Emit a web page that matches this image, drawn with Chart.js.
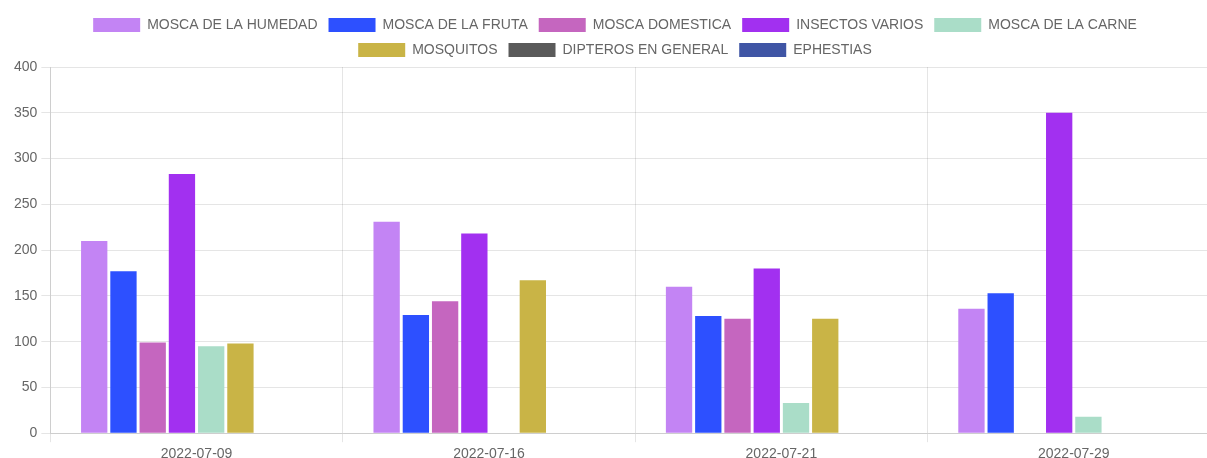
<!DOCTYPE html>
<html lang="es">
<head>
<meta charset="utf-8">
<title>Capturas por fecha</title>
<script src="https://cdn.jsdelivr.net/npm/chart.js@4.4.0/dist/chart.umd.min.js"></script>
<style>
    html, body { margin: 0; padding: 0; background: #fff; overflow: hidden; }
    #wrap { position: absolute; left: 0; top: 0; width: 1232px; height: 467px; }
</style>
</head>
<body>
<div id="wrap"><canvas id="capturasChart"></canvas></div>
<script>
// --- DATOS ---
const fechas = ['2022-07-09', '2022-07-16', '2022-07-21', '2022-07-29'];

const moscaHumedad   = [210, 231, 160, 136];
const moscaFruta     = [177, 129, 128, 153];
const moscaDomestica = [99, 144, 125, 0];
const insectosVarios = [283, 218, 180, 350];
const moscaCarne     = [95, 0, 33, 18];
const mosquitos      = [98, 167, 125, 0];
const dipteros       = [0, 0, 0, 0];
const ephestias      = [0, 0, 0, 0];

const yTicks = [0, 50, 100, 150, 200, 250, 300, 350, 400];

document.addEventListener('DOMContentLoaded', () => {
    Chart.defaults.color = '#666';
    Chart.defaults.font.family = "'Liberation Sans', Arial, Helvetica, sans-serif";
    Chart.defaults.font.size = 14;

    const serie = (label, data, color) => ({
        label: label,
        data: data,
        backgroundColor: color,
        borderColor: color,
        borderWidth: 0
    });

    const ctx = document.getElementById('capturasChart');
    new Chart(ctx, {
        type: 'bar',
        data: {
            labels: fechas,
            datasets: [
                serie('MOSCA DE LA HUMEDAD', moscaHumedad, '#c384f4'),
                serie('MOSCA DE LA FRUTA', moscaFruta, '#2d50ff'),
                serie('MOSCA DOMESTICA', moscaDomestica, '#c566bf'),
                serie('INSECTOS VARIOS', insectosVarios, '#a230f0'),
                serie('MOSCA DE LA CARNE', moscaCarne, '#aaddc8'),
                serie('MOSQUITOS', mosquitos, '#c9b446'),
                serie('DIPTEROS EN GENERAL', dipteros, '#5a5a5a'),
                serie('EPHESTIAS', ephestias, '#3f55a5')
            ]
        },
        options: {
            responsive: true,
            maintainAspectRatio: false,
            animation: false,
            layout: { padding: { left: 10, right: 12, top: 7, bottom: 0 } },
            plugins: {
                legend: {
                    position: 'top',
                    labels: { boxWidth: 47, boxHeight: 14, padding: 11 }
                },
                tooltip: { enabled: false }
            },
            scales: {
                x: {
                    grid: { color: 'rgba(0,0,0,0.1)', tickLength: 9 },
                    ticks: { padding: 4 }
                },
                y: {
                    min: 0,
                    max: yTicks[yTicks.length - 1],
                    afterBuildTicks: (axis) => { axis.ticks = yTicks.map(v => ({ value: v })); },
                    grid: { color: 'rgba(0,0,0,0.1)', tickLength: 9 },
                    ticks: { padding: 4 }
                }
            }
        }
    });
});
</script>
</body>
</html>
